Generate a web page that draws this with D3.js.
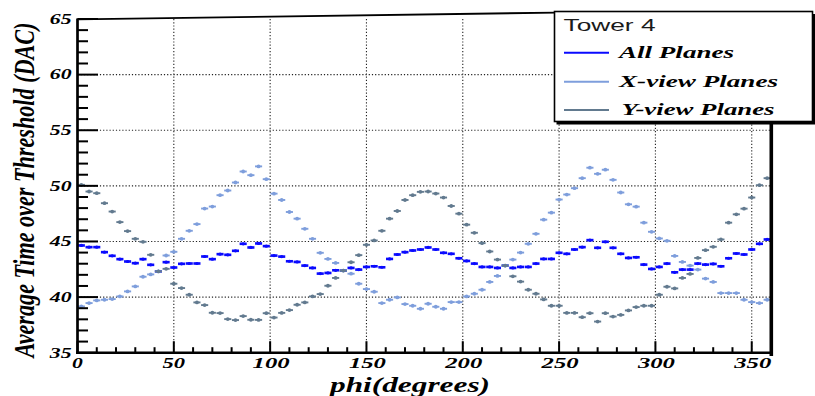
<!DOCTYPE html>
<html>
<head>
<meta charset="utf-8">
<script src="https://cdn.jsdelivr.net/npm/d3@7"></script>
<style>
  html, body { margin: 0; padding: 0; background: #fff; overflow: hidden; }
  svg { display: block; }
</style>
</head>
<body>
<svg id="chart" width="815" height="396"></svg>
<script>
// phi bin centres (degrees); each bin is 4 degrees wide
const phi = [
  2, 6, 10, 14, 18, 22, 26, 30, 34, 38,
  42, 46, 50, 54, 58, 62, 66, 70, 74, 78,
  82, 86, 90, 94, 98, 102, 106, 110, 114, 118,
  122, 126, 130, 134, 138, 142, 146, 150, 154, 158,
  162, 166, 170, 174, 178, 182, 186, 190, 194, 198,
  202, 206, 210, 214, 218, 222, 226, 230, 234, 238,
  242, 246, 250, 254, 258, 262, 266, 270, 274, 278,
  282, 286, 290, 294, 298, 302, 306, 310, 314, 318,
  322, 326, 330, 334, 338, 342, 346, 350, 354, 358
];
const phiHalfWidth = 2;

// average time over threshold (DAC) per phi bin
const allPlanes = [
  44.64, 44.49, 44.49, 44.04, 43.71, 43.41, 43.20, 43.05, 43.41, 42.90,
  42.31, 43.14, 42.66, 42.99, 43.02, 43.02, 43.65, 43.41, 43.86, 43.80,
  44.16, 44.79, 44.46, 44.82, 44.58, 43.73, 43.64, 43.22, 43.16, 42.83,
  42.62, 42.11, 42.17, 42.41, 42.38, 42.62, 42.47, 42.71, 42.77, 42.68,
  43.43, 43.83, 44.04, 44.19, 44.28, 44.46, 44.28, 43.98, 43.89, 43.49,
  43.25, 43.01, 42.71, 42.71, 42.62, 42.83, 42.62, 42.71, 42.71, 43.01,
  43.43, 43.43, 43.98, 43.89, 44.28, 44.49, 45.12, 44.43, 44.97, 44.43,
  43.89, 43.52, 43.58, 42.92, 42.53, 42.71, 43.01, 42.23, 42.47, 42.47,
  43.01, 42.92, 42.98, 42.77, 43.49, 43.92, 43.83, 44.28, 44.79, 45.18
];
const xViewPlanes = [
  39.16, 39.46, 39.70, 39.76, 39.82, 40.06, 40.51, 40.96, 41.83, 42.04,
  42.31, 43.74, 44.07, 45.24, 45.96, 46.56, 47.96, 48.14, 49.16, 49.58,
  50.30, 51.29, 50.96, 51.75, 50.60, 49.30, 48.73, 47.65, 47.05, 46.14,
  45.24, 43.98, 43.43, 43.07, 42.38, 42.10, 41.20, 40.72, 40.48, 39.46,
  39.76, 39.97, 39.37, 39.22, 38.95, 39.40, 39.13, 38.95, 39.55, 39.55,
  40.06, 40.30, 40.66, 41.36, 41.90, 42.83, 43.37, 44.00, 44.79, 45.69,
  46.96, 47.59, 48.77, 49.22, 49.79, 50.69, 51.63, 51.08, 51.45, 50.54,
  49.40, 48.34, 48.13, 46.69, 45.87, 45.27, 45.06, 43.70, 43.16, 42.83,
  42.47, 41.66, 41.36, 40.36, 40.36, 40.36, 39.76, 39.55, 39.46, 39.76
];
const yViewPlanes = [
  50.09, 49.49, 49.34, 48.44, 47.69, 46.74, 45.93, 45.24, 44.97, 43.80,
  42.31, 42.54, 41.20, 40.81, 40.21, 39.52, 39.28, 38.59, 38.56, 38.02,
  37.93, 38.29, 37.96, 37.95, 38.55, 38.16, 38.58, 38.83, 39.31, 39.52,
  40.06, 40.27, 41.02, 41.72, 42.38, 43.13, 43.77, 44.70, 45.09, 45.96,
  47.05, 47.74, 48.73, 49.16, 49.46, 49.49, 49.31, 48.95, 48.19, 47.50,
  46.51, 45.78, 44.85, 44.10, 43.37, 42.83, 41.87, 41.39, 40.66, 40.30,
  39.79, 39.22, 39.22, 38.58, 38.58, 38.19, 38.55, 37.80, 38.55, 38.25,
  38.40, 38.80, 39.10, 39.22, 39.22, 40.21, 40.93, 40.78, 41.72, 42.08,
  43.52, 44.22, 44.52, 45.18, 46.69, 47.44, 47.95, 48.95, 50.06, 50.69
];

const seriesNames = ["All Planes", "X-view Planes", "Y-view Planes"];
const seriesColors = ["#0a0aff", "#7e9edc", "#627a8f"];
const legendTitle = "Tower 4";
const xTitle = "phi(degrees)";
const yTitle = "Average Time over Threshold (DAC)";
const xMajorTicks = [0, 50, 100, 150, 200, 250, 300, 350];
const yMajorTicks = [35, 40, 45, 50, 55, 60, 65];

const svg = d3.select("#chart");
const x = d3.scaleLinear().domain([0, 360]).range([77.5, 771]);
const y = d3.scaleLinear().domain([35, 65]).range([352.7, 19]);

const serif = "'Liberation Serif', 'Times New Roman', serif";
const sans = "'Liberation Sans', Arial, Helvetica, sans-serif";

// text whose width is set explicitly (glyphs are drawn wide)
function wideText(g, str, px, py, opts) {
  const w = opts.width;
  const x0 = opts.anchor === "end" ? px - w : opts.anchor === "middle" ? px - w / 2 : px;
  return g.append("text")
    .attr("x", x0).attr("y", py)
    .attr("textLength", w).attr("lengthAdjust", "spacingAndGlyphs")
    .attr("font-family", opts.family || serif)
    .attr("font-size", opts.size)
    .attr("font-weight", opts.weight || "bold")
    .attr("font-style", opts.style || "italic")
    .attr("fill", opts.fill || "#000")
    .text(str);
}

// grid (dotted)
const grid = svg.append("g").attr("stroke", "#222").attr("stroke-width", 1.1)
  .attr("stroke-dasharray", "1.2,2");
grid.selectAll("line.gx").data(xMajorTicks.filter(d => d > 0))
  .enter().append("line")
  .attr("x1", d => x(d)).attr("x2", d => x(d))
  .attr("y1", y(65)).attr("y2", y(35));
grid.selectAll("line.gy").data(yMajorTicks.filter(d => d > 35 && d < 65))
  .enter().append("line")
  .attr("x1", x(0)).attr("x2", x(360))
  .attr("y1", d => y(d)).attr("y2", d => y(d));

// data points with horizontal bin-width bars
const series = [allPlanes, xViewPlanes, yViewPlanes];
series.forEach((vals, si) => {
  const g = svg.append("g");
  const pts = phi.map((p, i) => ({ p, v: vals[i] }));
  g.selectAll("line").data(pts).enter().append("line")
    .attr("x1", d => x(d.p - phiHalfWidth) + 0.3)
    .attr("x2", d => x(d.p + phiHalfWidth) - 0.3)
    .attr("y1", d => y(d.v)).attr("y2", d => y(d.v))
    .attr("stroke", seriesColors[si])
    .attr("stroke-width", si === 0 ? 2.6 : 1.9);
  g.selectAll("ellipse").data(pts).enter().append("ellipse")
    .attr("cx", d => x(d.p)).attr("cy", d => y(d.v))
    .attr("rx", si === 0 ? 1.8 : 1.9).attr("ry", si === 0 ? 1.6 : 1.9)
    .attr("fill", seriesColors[si]);
});

// frame
const frame = svg.append("g").attr("stroke", "#000").attr("fill", "none");
frame.append("line")
  .attr("x1", x(0)).attr("y1", 19.3).attr("x2", 556).attr("y2", 12.6)
  .attr("stroke-width", 1.8);
frame.append("line")
  .attr("x1", 771.3).attr("x2", 771.3).attr("y1", 118).attr("y2", 356)
  .attr("stroke-width", 3.6);
frame.append("line")
  .attr("x1", x(0)).attr("x2", x(0)).attr("y1", y(65) - 0.5).attr("y2", y(35) + 1.3)
  .attr("stroke-width", 2.7);
frame.append("line")
  .attr("x1", x(0) - 1.3).attr("x2", 773).attr("y1", y(35)).attr("y2", y(35))
  .attr("stroke-width", 2.6);

// y ticks (inward)
const yMinor = d3.range(35, 65.01, 1);
frame.selectAll("line.yt").data(yMinor).enter().append("line")
  .attr("x1", x(0)).attr("x2", d => x(0) + (d % 5 === 0 ? 20.5 : 10.5))
  .attr("y1", d => y(d)).attr("y2", d => y(d))
  .attr("stroke-width", 2);
// x ticks (inward)
const xMinor = d3.range(0, 360.01, 10);
frame.selectAll("line.xt").data(xMinor).enter().append("line")
  .attr("x1", d => x(d)).attr("x2", d => x(d))
  .attr("y1", y(35)).attr("y2", d => y(35) - (d % 50 === 0 ? 11.5 : 5.5))
  .attr("stroke-width", 2);

// tick labels
const labels = svg.append("g");
yMajorTicks.forEach(t => {
  wideText(labels, String(t), 71.5, y(t) + 4.8, { size: 14.5, width: 21.7, anchor: "end" });
});
const xLabelWidth = [0, 10.8, 22.5, 37];
xMajorTicks.forEach(t => {
  const s = String(t);
  wideText(labels, s, x(t) + (s.length === 3 ? 1 : 0), 368, { size: 14.5, width: xLabelWidth[s.length], anchor: "middle" });
});

// axis titles
wideText(labels, xTitle, 410, 391.5, { size: 20, width: 160, anchor: "middle" });
labels.append("text")
  .attr("transform", "translate(33.5,190) scale(1.5,1) rotate(-90)")
  .attr("x", -167.5).attr("y", 0)
  .attr("textLength", 335).attr("lengthAdjust", "spacingAndGlyphs")
  .attr("font-family", serif).attr("font-size", 19)
  .attr("font-weight", "bold").attr("font-style", "italic")
  .text(yTitle);

// legend
const leg = svg.append("g");
leg.append("rect").attr("x", 556.5).attr("y", 120.5).attr("width", 262).attr("height", 4).attr("fill", "#000");
leg.append("rect").attr("x", 554.5).attr("y", 11.5).attr("width", 258).attr("height", 110)
  .attr("fill", "#fff").attr("stroke", "#000").attr("stroke-width", 1.6);
leg.append("rect").attr("x", 812.5).attr("y", 14).attr("width", 4).attr("height", 110).attr("fill", "#000");
wideText(leg, legendTitle, 563.5, 30.7, { size: 17, width: 92, family: sans, weight: "normal", style: "normal", fill: "#1a1a1a" });
const legRows = [52.7, 81.7, 110];
const legText = [{ x: 619, w: 115, b: 58 }, { x: 619, w: 159, b: 86.5 }, { x: 621.5, w: 153, b: 114.5 }];
seriesNames.forEach((name, i) => {
  leg.append("line")
    .attr("x1", 564).attr("x2", 609)
    .attr("y1", legRows[i]).attr("y2", legRows[i])
    .attr("stroke", seriesColors[i]).attr("stroke-width", 2);
  wideText(leg, name, legText[i].x, legText[i].b, { size: 17.5, width: legText[i].w });
});
</script>
</body>
</html>
